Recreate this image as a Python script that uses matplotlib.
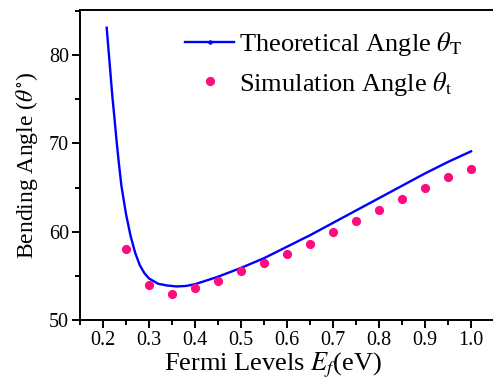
import matplotlib
matplotlib.use("Agg")
import matplotlib.pyplot as plt
from matplotlib.ticker import MultipleLocator

plt.rcParams['font.family'] = ['Liberation Serif', 'DejaVu Serif']
plt.rcParams['mathtext.fontset'] = 'stix'

# Theoretical bending angle vs Fermi level
theory_ef = [0.208, 0.215, 0.22, 0.225, 0.23, 0.235, 0.24, 0.25, 0.26, 0.27,
             0.28, 0.29, 0.30, 0.32, 0.34, 0.36, 0.38, 0.40, 0.45, 0.50,
             0.55, 0.60, 0.65, 0.70, 0.75, 0.80, 0.85, 0.90, 0.95, 1.00]
theory_angle = [83.1, 78.7, 75.5, 72.8, 70.0, 67.5, 65.2, 62.0, 59.5, 57.6,
                56.2, 55.3, 54.7, 54.1, 53.9, 53.8, 53.85, 54.05, 54.9, 55.9,
                57.0, 58.3, 59.6, 61.0, 62.4, 63.8, 65.2, 66.6, 67.9, 69.1]

# Simulated bending angle
sim_ef = [0.25, 0.30, 0.35, 0.40, 0.45, 0.50, 0.55, 0.60, 0.65, 0.70,
          0.75, 0.80, 0.85, 0.90, 0.95, 1.00]
sim_angle = [58.0, 54.0, 52.9, 53.6, 54.4, 55.5, 56.4, 57.5, 58.6, 60.0,
             61.2, 62.4, 63.7, 65.0, 66.2, 67.1]

x_ticks = [0.2, 0.3, 0.4, 0.5, 0.6, 0.7, 0.8, 0.9, 1.0]
x_ticklabels = ['0.2', '0.3', '0.4', '0.5', '0.6', '0.7', '0.8', '0.9', '1.0']
y_ticks = [50, 60, 70, 80]

W, H = 493, 388
fig = plt.figure(figsize=(W / 100, H / 100), dpi=100)
ax = fig.add_axes([80 / W, 68 / H, 415 / W, 310 / H])

# line with a tiny symbol that only shows up in the legend
ax.plot(theory_ef, theory_angle, color='#0000FF', lw=1.7,
        marker='o', markersize=2.2, markevery=[],
        label=r'Theoretical Angle $\theta_{\rm T}$')
ax.plot(sim_ef, sim_angle, linestyle='none', marker='o', markersize=5.6,
        color='#FF0A7F', label=r'Simulation Angle $\theta_{\rm t}$')

ax.set_xlim(0.15, 1.052)
ax.set_ylim(50, 85.1)
ax.set_xticks(x_ticks)
ax.set_xticklabels(x_ticklabels)
ax.xaxis.set_minor_locator(MultipleLocator(0.05))
ax.set_yticks(y_ticks)
ax.yaxis.set_minor_locator(MultipleLocator(5))

ax.tick_params(which='major', direction='out', length=6, width=1.4,
               labelsize=14.5, pad=2)
ax.tick_params(which='minor', direction='out', length=3.5, width=1.4)
for s in ax.spines.values():
    s.set_linewidth(1.4)

ax.set_xlabel(r'Fermi Levels $E_f$(eV)', fontsize=19)
ax.xaxis.set_label_coords(0.465, -0.098)
ax.set_ylabel(r'Bending Angle ($\theta^{\circ}$)', fontsize=17, labelpad=6)

ax.legend(loc='upper left', bbox_to_anchor=(0.228, 0.97), frameon=False,
          fontsize=19, handlelength=1.85, handletextpad=0.2,
          labelspacing=0.45, borderaxespad=0)

fig.savefig('out.png', dpi=100)
